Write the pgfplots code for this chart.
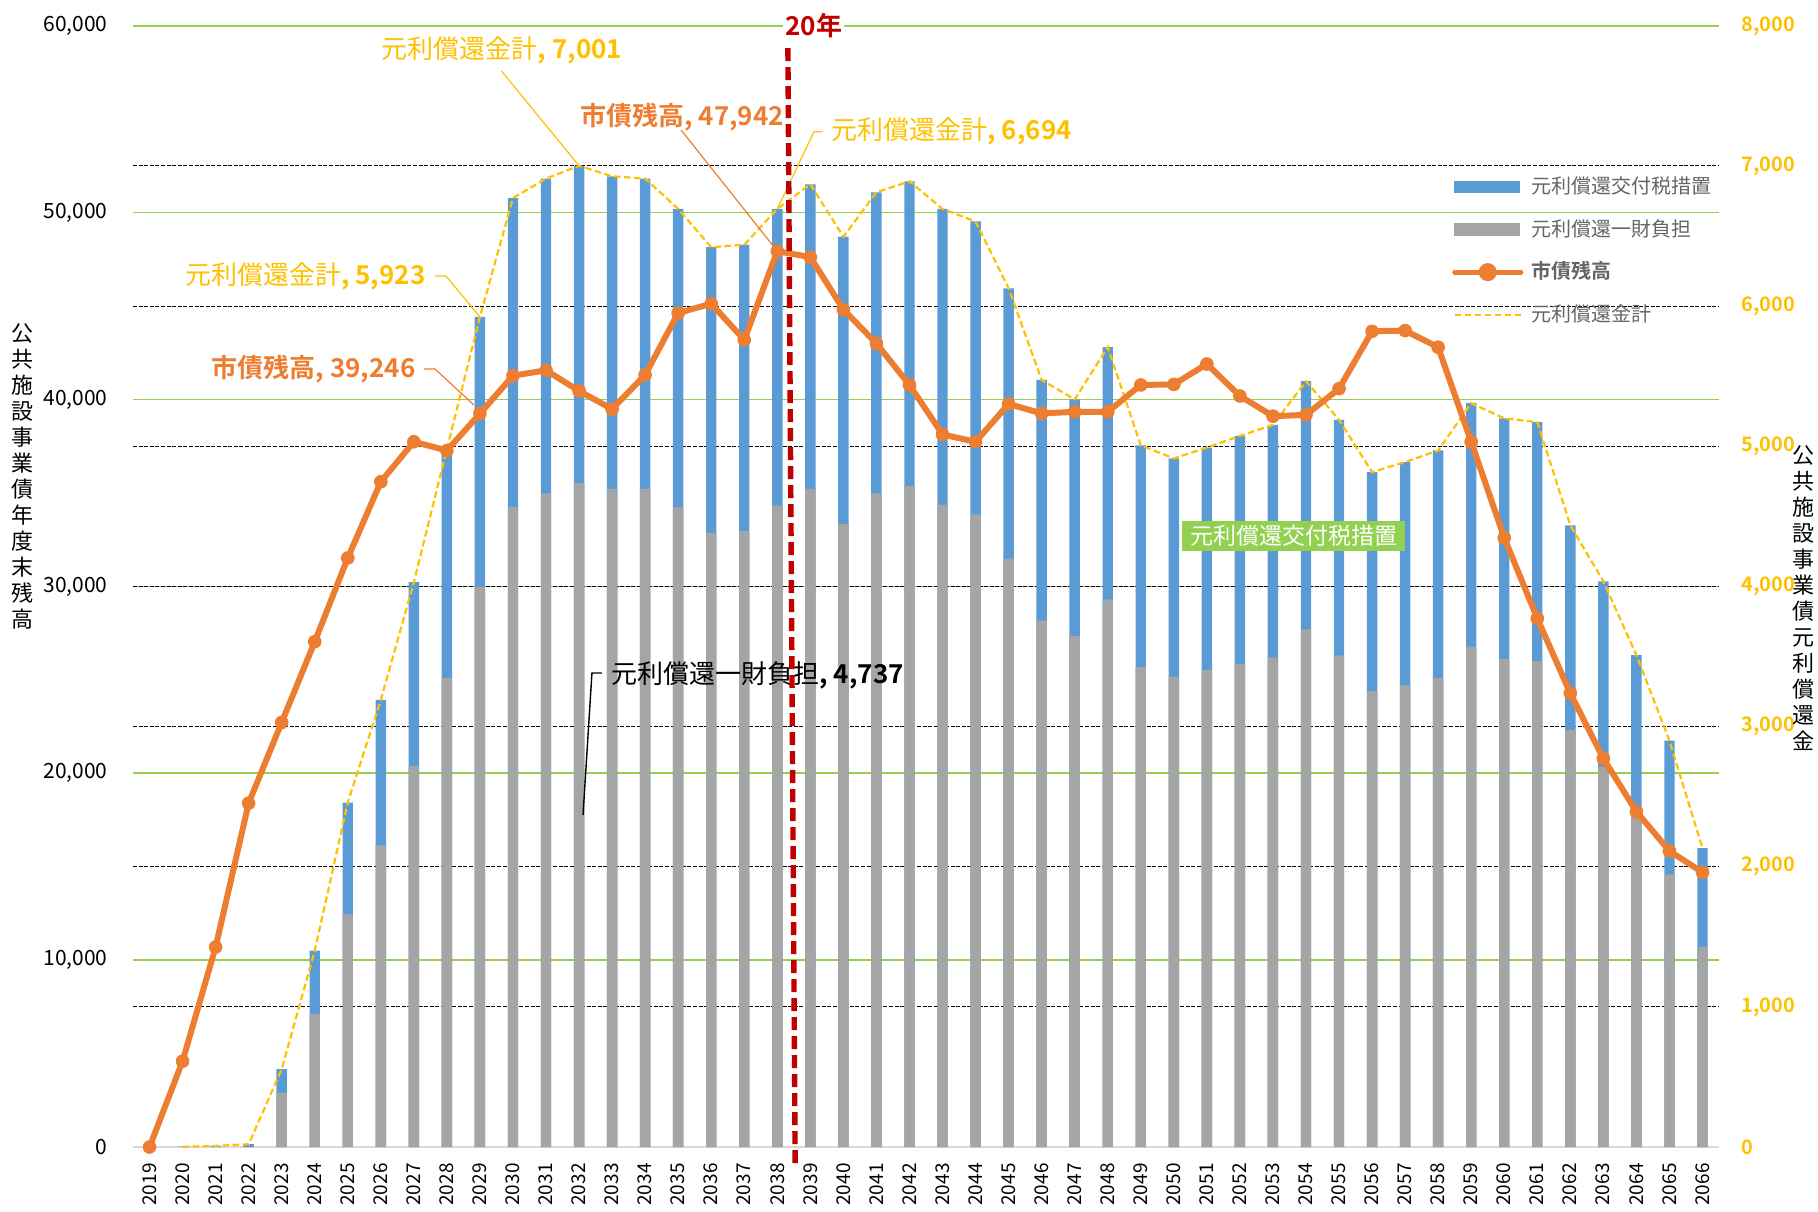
\documentclass[border=0pt]{standalone}
\usepackage{fontspec}
\setmainfont{Noto Sans CJK JP}[BoldFont={Noto Sans CJK JP Bold}]
\usepackage{pgfplots}
\usepackage{pgfplotstable}
\pgfplotsset{compat=1.18}
\definecolor{cblue}{HTML}{5B9BD5}
\definecolor{cgray}{HTML}{A5A5A5}
\definecolor{corange}{HTML}{ED7D31}
\definecolor{cyellow}{HTML}{FFC000}
\definecolor{cgreen}{HTML}{92D050}
\definecolor{cred}{HTML}{C00000}
\definecolor{caxis}{HTML}{D9D9D9}
\definecolor{ctext}{HTML}{656565}
\pgfplotstableread{
year ippan total debt
2019 nan nan 0
2020 nan 2 4591
2021 nan 8 10700
2022 nan 20 18400
2023 386 555 22720
2024 950 1401 27040
2025 1660 2458 31520
2026 2153 3190 35600
2027 2718 4030 37740
2028 3346 4980 37270
2029 3995 5923 39246
2030 4566 6771 41280
2031 4664 6910 41560
2032 4737 7001 40460
2033 4695 6926 39490
2034 4695 6910 41320
2035 4566 6693 44630
2036 4382 6420 45130
2037 4395 6438 43190
2038 4576 6694 47942
2039 4695 6869 47620
2040 4446 6495 44820
2041 4664 6812 43000
2042 4716 6890 40780
2043 4581 6693 38130
2044 4514 6604 37740
2045 4198 6127 39760
2046 3756 5473 39260
2047 3647 5334 39340
2048 3907 5707 39340
2049 3424 5007 40780
2050 3357 4913 40810
2051 3403 4991 41900
2052 3445 5074 40190
2053 3492 5152 39110
2054 3694 5464 39180
2055 3508 5188 40580
2056 3253 4815 43650
2057 3294 4887 43690
2058 3346 4970 42800
2059 3570 5307 37740
2060 3481 5199 32600
2061 3466 5172 28290
2062 2975 4436 24280
2063 2710 4036 20790
2064 2355 3510 17950
2065 1946 2899 15840
2066 1428 2132 14700
}\data
\pgfplotsset{common/.style={width=793pt, height=560.6pt, scale only axis,
  xmin=2018.5, xmax=2066.5, clip=false, at={(0pt,0pt)}, anchor=south west,
  scaled x ticks=false, scaled y ticks=false,
  /pgf/number format/assume math mode=true}}
\begin{document}
\begin{tikzpicture}
\useasboundingbox (-66.5pt,-32pt) rectangle (842.5pt,573.5pt);
% Axis A: left scale, green grid, x tick labels
\begin{axis}[common, ymin=0, ymax=60000, ytick={0,10000,...,60000},
  ymajorgrids, grid style={cgreen, line width=0.8pt},
  axis x line*=bottom, axis y line*=left,
  y axis line style={draw=none}, x axis line style={-, caxis, line width=1.4pt},
  xtick={2019,...,2066}, major tick length=0pt,
  xticklabel style={rotate=90, anchor=east, inner sep=0pt, font=\fontsize{9.5}{10}\selectfont, /pgf/number format/1000 sep={}},
  xticklabel shift=8pt,
  yticklabel style={anchor=east, inner sep=0pt, font=\fontsize{10.5}{12}\selectfont, /pgf/number format/1000 sep={,}},
  yticklabel shift=12.5pt]
\node[font=\fontsize{11}{13}\selectfont, align=center, inner sep=0pt] at (rel axis cs:-0.0694,0.5985) {公\\共\\施\\設\\事\\業\\債\\年\\度\\末\\残\\高};
\end{axis}
% Axis B: right scale, bars and total line
\begin{axis}[common, ymin=0, ymax=8000,
  axis y line*=right, axis x line=none, y axis line style={draw=none},
  ytick={0,1000,...,8000}, minor ytick={1000,2000,...,7000},
  ymajorgrids=false, yminorgrids,
  minor grid style={black, line width=0.55pt, dash pattern=on 2pt off 0.8pt},
  xtick=\empty, major tick length=0pt, minor tick length=0pt,
  yticklabel style={anchor=west, inner sep=0pt, text=cyellow, font=\bfseries\fontsize{10}{12}\selectfont, /pgf/number format/1000 sep={,}},
  yticklabel shift=11pt]
\addplot[ybar, bar width=5.2pt, bar shift=0pt, fill=cblue, draw=none] table[x=year, y=total]{\data};
\addplot[ybar, bar width=5.2pt, bar shift=0pt, fill=cgray, draw=none] table[x=year, y=ippan]{\data};
\addplot[cyellow, line width=1.1pt, dash pattern=on 3.3pt off 1.7pt] table[x=year, y=total]{\data};
% annotations on the right scale
\node[text=cyellow, inner sep=0pt, font=\fontsize{13}{15}\selectfont] at (axis cs:2029.67,7827) {元利償還金計\textbf{, 7,001}};
\draw[cyellow, line width=0.6pt] (axis cs:2029.65,7678) -- (axis cs:2032,7001);
\node[text=cyellow, anchor=east, inner sep=0pt, font=\fontsize{13}{15}\selectfont] at (axis cs:2027.36,6215) {元利償還金計\textbf{, 5,923}};
\draw[cyellow, line width=0.6pt] (axis cs:2027.64,6215) -- (axis cs:2027.97,6215) -- (axis cs:2029,5923);
\node[text=cyellow, anchor=west, inner sep=0pt, font=\fontsize{13}{15}\selectfont] at (axis cs:2039.63,7244) {元利償還金計\textbf{, 6,694}};
\draw[cyellow, line width=0.6pt] (axis cs:2039.36,7244) -- (axis cs:2039.11,7244) -- (axis cs:2038,6694);
\node[text=black, anchor=west, inner sep=0pt, font=\fontsize{13}{15}\selectfont] at (axis cs:2032.97,3368) {元利償還一財負担\textbf{, 4,737}};
\draw[black, line width=0.7pt] (axis cs:2032.69,3382) -- (axis cs:2032.39,3382) -- (axis cs:2032.12,2369);
\node[fill=cgreen, text=white, inner sep=0pt, minimum width=111.5pt, minimum height=15pt, font=\fontsize{11.5}{13}\selectfont] at (axis cs:2053.63,4360) {元利償還交付税措置};
\node[font=\fontsize{11}{13}\selectfont, align=center, inner sep=0pt] at (rel axis cs:1.053,0.4897) {公\\共\\施\\設\\事\\業\\債\\元\\利\\償\\還\\金};
\end{axis}
% Axis C: left scale, debt line, legend
\begin{axis}[common, ymin=0, ymax=60000, hide axis,
  legend style={at={(0.8315,0.866)}, anchor=north west, draw=none, fill=none, inner sep=0pt,
    font=\fontsize{10}{12}\selectfont, text=ctext, row sep=10.8pt, column sep=4pt,
    nodes={inner sep=0pt, text height=8.5pt, text depth=2pt}},
  legend cell align=left]
\addlegendimage{legend image code/.code={\fill[cblue] (0pt,-2.9pt) rectangle (32.5pt,2.9pt);}}
\addlegendentry{元利償還交付税措置}
\addlegendimage{legend image code/.code={\fill[cgray] (0pt,-2.9pt) rectangle (32.5pt,2.9pt);}}
\addlegendentry{元利償還一財負担}
\addplot[corange, line width=3pt, line join=round, mark=*, mark size=3.2pt,
  mark options={fill=corange, draw=corange, line width=0.4pt, solid},
  legend image code/.code={\draw[corange, line width=2.6pt, line cap=round] (0pt,0pt) -- (33pt,0pt); \fill[corange] (16.5pt,0pt) circle (3pt);}]
  table[x=year, y=debt]{\data};
\addlegendentry{\textbf{市債残高}}
\addlegendimage{legend image code/.code={\draw[cyellow, line width=1.1pt, dash pattern=on 3.3pt off 1.7pt] (0pt,0pt) -- (33pt,0pt);}}
\addlegendentry{元利償還金計}
\node[text=corange, anchor=east, inner sep=0pt, font=\bfseries\fontsize{13}{15}\selectfont] at (axis cs:2027.06,41631) {市債残高, 39,246};
\draw[corange, line width=0.6pt] (axis cs:2027.30,41631) -- (axis cs:2027.64,41631) -- (axis cs:2028.82,39704);
\node[text=corange, inner sep=0pt, font=\bfseries\fontsize{13}{15}\selectfont] at (axis cs:2035.12,55131) {市債残高, 47,942};
\draw[corange, line width=0.6pt] (axis cs:2035.09,54420) -- (axis cs:2038,47942);
\draw[cred, line width=2.7pt, dash pattern=on 6.5pt off 3pt] (axis cs:2038.32,58807) -- (axis cs:2038.54,-963);
\node[text=cred, fill=white, inner sep=1pt, font=\bfseries\fontsize{13}{15}\selectfont] at (axis cs:2039.10,60038) {20年};
\end{axis}
\end{tikzpicture}
\end{document}
